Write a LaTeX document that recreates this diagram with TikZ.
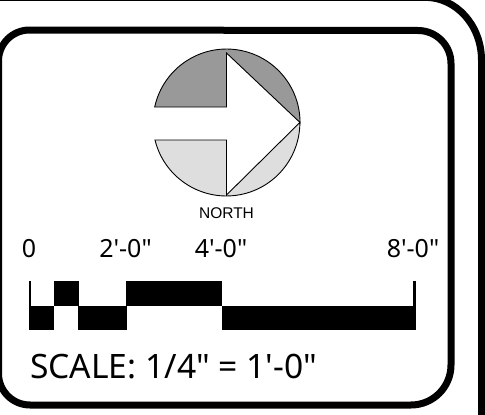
\documentclass[tikz,border=0pt]{standalone}
\usepackage{fontspec}
\newfontfamily\labelfont{Noto Sans}
\newfontfamily\northfont{Liberation Sans}
\begin{document}
\begin{tikzpicture}[
  x=1pt,y=1pt,
  frameline/.style={draw,line width=7pt},
  bar/.style={fill=black},
  dim/.style={font=\labelfont\fontsize{25}{25}\selectfont,inner sep=0pt,anchor=center},
  halfarrow/.style={draw=black,line width=0.9pt,line join=miter}
]
\useasboundingbox (0,-415) rectangle (485,0);

\begin{scope}
\clip (0,-415) rectangle (485,0);
\draw[frameline] (0,2.7) -- (425,2.7) arc[start angle=90,end angle=0,x radius=56.5,y radius=62.7] -- (481.5,-420); % outer frame
\draw[frameline] (-1.5,-61) arc[start angle=180,end angle=90,radius=31] -- (418,-30.5)
  arc[start angle=90,end angle=0,radius=33] -- (451,-365)
  arc[start angle=0,end angle=-90,radius=40] -- (30,-405)
  arc[start angle=270,end angle=180,radius=31.5] -- cycle; % inner frame
\end{scope}

\filldraw[halfarrow,fill=black!40] (226.5,-107) -- (154.7,-107)
  arc[start angle=167.8,end angle=0,radius=73.5] -- (226.5,-53) -- cycle; % upper half
\filldraw[halfarrow,fill=black!13] (226.5,-140) -- (155,-140)
  arc[start angle=193.8,end angle=360,radius=73.5] -- (226.5,-195) -- cycle; % lower half

\node (north) [font=\northfont\fontsize{15.5}{16}\selectfont,inner sep=0pt] at (226.5,-213.5) {NORTH};

\node (zero)  [dim] at (29,-249)  {0};
\node (two)   [dim] at (125.5,-249) {2'-0"};
\node (four)  [dim] at (221,-249) {4'-0"};
\node (eight) [dim] at (413,-249) {8'-0"};

\fill[bar] (29,-281) rectangle (31,-306);     % left tick
\fill[bar] (412.5,-281) rectangle (415.5,-306); % right tick
\fill[bar] (29,-305.5) rectangle (54,-330);
\fill[bar] (53.5,-281) rectangle (79,-305.5);
\fill[bar] (77.5,-305.5) rectangle (126.5,-330);
\fill[bar] (125.5,-281) rectangle (222,-306);
\fill[bar] (221.5,-305.5) rectangle (415.5,-330);

\node (scale) [font=\labelfont\fontsize{33.6}{34}\selectfont,inner sep=0pt,anchor=west] at (30,-367) {SCALE: 1/4" = 1'-0"};
\end{tikzpicture}
\end{document}
